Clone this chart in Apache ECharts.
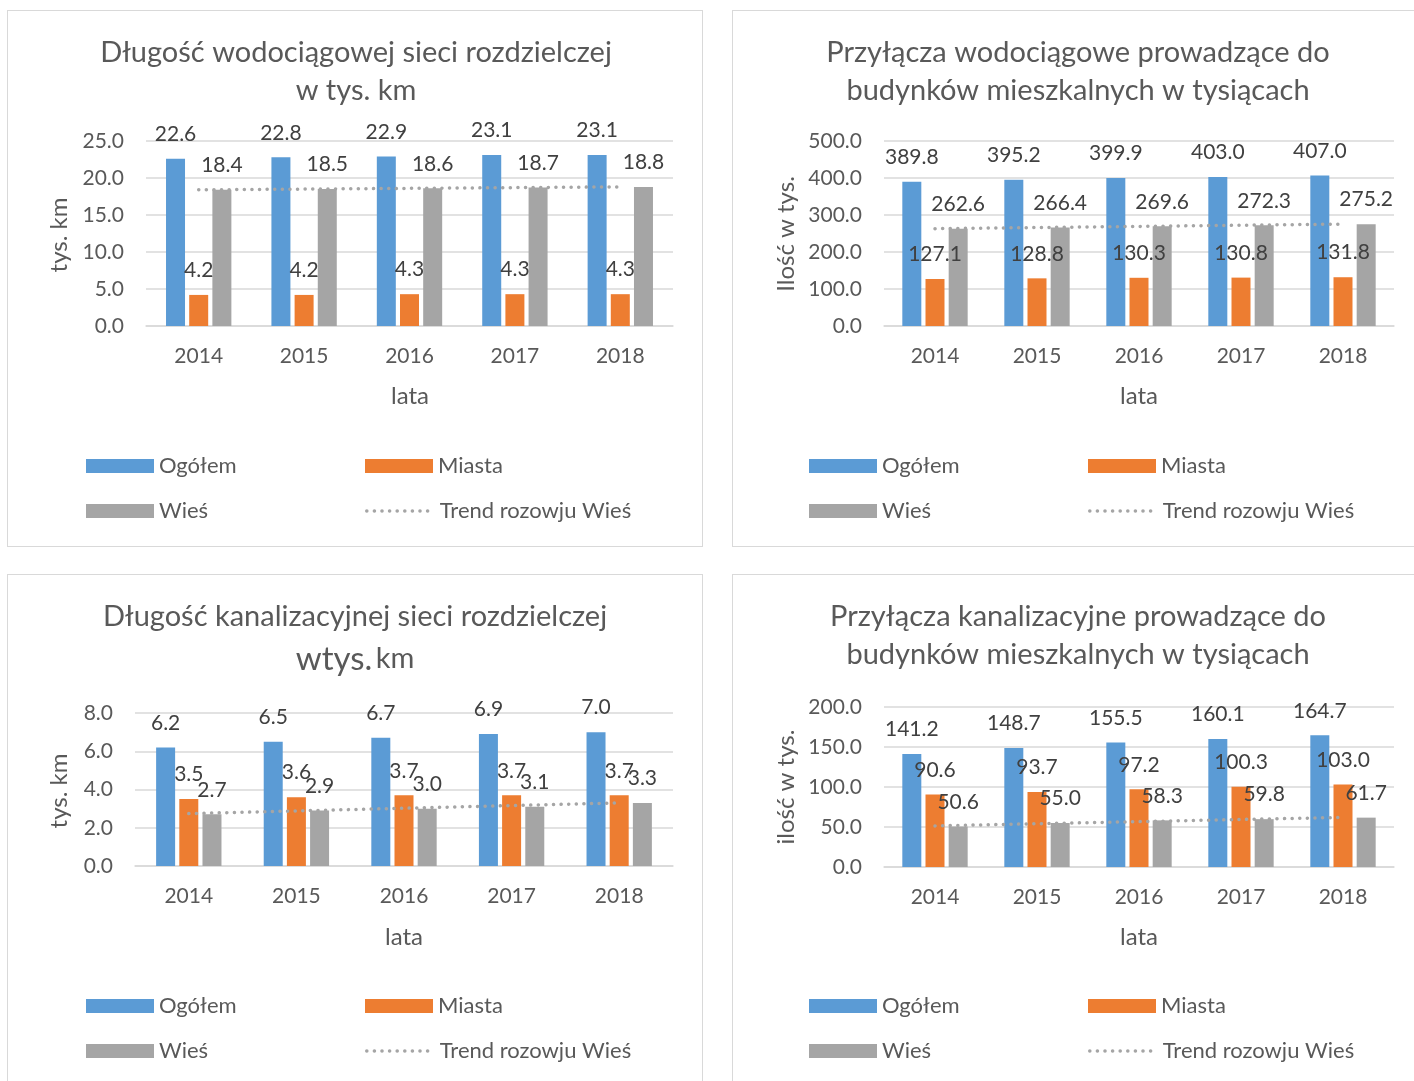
<!DOCTYPE html>
<html>
<head>
<meta charset="utf-8">
<script src="https://cdn.jsdelivr.net/npm/echarts@6/dist/echarts.min.js"></script>
<style>
  html, body { margin: 0; padding: 0; background: #fff; overflow: hidden; width: 1414px; height: 1081px; }
  .panel { position: absolute; border: 1px solid #d9d9d9; box-sizing: border-box; background: #fff; }
</style>
</head>
<body>
<div id="c1" class="panel" style="left:7px;top:10px;width:696px;height:537px"></div>
<div id="c2" class="panel" style="left:732px;top:10px;width:700px;height:537px"></div>
<div id="c3" class="panel" style="left:7px;top:574px;width:696px;height:530px"></div>
<div id="c4" class="panel" style="left:732px;top:574px;width:700px;height:530px"></div>
<script>
var years = ['2014', '2015', '2016', '2017', '2018'];
var seriesNames = ['Ogółem', 'Miasta', 'Wieś', 'Trend rozowju Wieś'];

// wodociągi - długość sieci
var wodSiecOgolem = [22.6, 22.8, 22.9, 23.1, 23.1];
var wodSiecMiasta = [4.2, 4.2, 4.3, 4.3, 4.3];
var wodSiecWies = [18.4, 18.5, 18.6, 18.7, 18.8];
var wodSiecTrend = [18.4, 18.5, 18.6, 18.7, 18.8];

// wodociągi - przyłącza
var wodPrzylOgolem = [389.8, 395.2, 399.9, 403.0, 407.0];
var wodPrzylMiasta = [127.1, 128.8, 130.3, 130.8, 131.8];
var wodPrzylWies = [262.6, 266.4, 269.6, 272.3, 275.2];
var wodPrzylTrend = [263.0, 266.1, 269.2, 272.3, 275.4];

// kanalizacja - długość sieci
var kanSiecOgolem = [6.2, 6.5, 6.7, 6.9, 7.0];
var kanSiecMiasta = [3.5, 3.6, 3.7, 3.7, 3.7];
var kanSiecWies = [2.7, 2.9, 3.0, 3.1, 3.3];
var kanSiecTrend = [2.74, 2.88, 3.02, 3.16, 3.30];

// kanalizacja - przyłącza
var kanPrzylOgolem = [141.2, 148.7, 155.5, 160.1, 164.7];
var kanPrzylMiasta = [90.6, 93.7, 97.2, 100.3, 103.0];
var kanPrzylWies = [50.6, 55.0, 58.3, 59.8, 61.7];
var kanPrzylTrend = [51.4, 54.1, 56.7, 59.4, 62.0];

var FONT = 'Lato';
var TXT = '#595959';
var colors = ['#5b9bd5', '#ed7d31', '#a5a5a5'];

function buildOption(p) {
    var lbl = {
        show: true, position: 'top', distance: 14,
        fontFamily: FONT, fontSize: 21, color: '#404040',
        formatter: function (d) { return d.value.toFixed(1); }
    };
    var bars = [p.ogolem, p.miasta, p.wies].map(function (vals, i) {
        return {
            name: seriesNames[i], type: 'bar', data: vals,
            barWidth: 19, barGap: '22%',
            itemStyle: { color: colors[i] },
            label: lbl
        };
    });
    var trend = {
        name: seriesNames[3], type: 'line', data: p.trend,
        symbol: 'none', z: 5,
        itemStyle: { color: 'rgba(0,0,0,0)' },
        lineStyle: { color: '#a5a5a5', width: 3.5, type: [0.1, 7.5], cap: 'round' }
    };
    var legendBase = {
        orient: 'horizontal', padding: 0, itemWidth: 68, itemHeight: 14,
        textStyle: { fontFamily: FONT, fontSize: 22, color: TXT },
        selectedMode: false
    };
    function lg(name, x, y, rect) {
        var o = Object.assign({}, legendBase, { data: [name], left: x, top: y - 12 });
        if (rect) o.icon = 'rect';
        else o.lineStyle = { color: '#a5a5a5', width: 3.5, type: [0.1, 7.5], cap: 'round' };
        return o;
    }
    var titleLine2 = p.title2rich
        ? { type: 'text', x: p.titleX, y: p.titleY[1], style: { text: '{a|wtys.} {b|km}', textAlign: 'center', textVerticalAlign: 'middle', rich: { a: { fontFamily: FONT, fontSize: 33, fill: TXT }, b: { fontFamily: FONT, fontSize: 29, fill: TXT } } } }
        : { type: 'text', x: p.titleX, y: p.titleY[1], style: { text: p.title[1], font: '29px ' + FONT, fill: TXT, textAlign: 'center', textVerticalAlign: 'middle' } };
    return {
        animation: false,
        grid: p.grid,
        xAxis: {
            type: 'category', data: years,
            axisLine: { lineStyle: { color: '#d9d9d9', width: 1.5 } },
            axisTick: { show: false },
            axisLabel: { fontFamily: FONT, fontSize: 21, color: TXT, margin: 20 }
        },
        yAxis: {
            type: 'value', min: 0, max: p.max, interval: p.interval,
            axisLine: { show: false }, axisTick: { show: false },
            splitLine: { lineStyle: { color: '#d9d9d9', width: 1.5 } },
            axisLabel: { fontFamily: FONT, fontSize: 21, color: TXT, margin: 22, formatter: function (v) { return v.toFixed(1); } }
        },
        legend: [
            lg(seriesNames[0], p.legX[0], p.legY[0], true),
            lg(seriesNames[1], p.legX[1], p.legY[0], true),
            lg(seriesNames[2], p.legX[0], p.legY[1], true),
            lg(seriesNames[3], p.legX[1], p.legY[1], false)
        ],
        graphic: [
            { type: 'text', x: p.titleX, y: p.titleY[0], style: { text: p.title[0], font: '29px ' + FONT, fill: TXT, textAlign: 'center', textVerticalAlign: 'middle' } },
            titleLine2,
            { type: 'text', x: p.yName[1], y: p.yName[2], rotation: Math.PI / 2, style: { text: p.yName[0], font: '24px ' + FONT, fill: TXT, textAlign: 'center', textVerticalAlign: 'middle' } },
            { type: 'text', x: p.xName[0], y: p.xName[1], style: { text: 'lata', font: '24px ' + FONT, fill: TXT, textAlign: 'center', textVerticalAlign: 'middle' } }
        ],
        series: bars.concat([trend])
    };
}

var panels = [
    { id: 'c1', title: ['Długość wodociągowej sieci rozdzielczej', 'w tys. km'], titleX: 348, titleY: [42, 80],
      yName: ['tys. km', 51, 224], xName: [402, 385], max: 25, interval: 5,
      grid: { left: 138, top: 130, width: 527, height: 185 },
      legX: [78, 357], legY: [456, 501],
      ogolem: wodSiecOgolem, miasta: wodSiecMiasta, wies: wodSiecWies, trend: wodSiecTrend },
    { id: 'c2', title: ['Przyłącza wodociągowe prowadzące do', 'budynków mieszkalnych w tysiącach'], titleX: 345, titleY: [42, 80],
      yName: ['Ilość w tys.', 53, 223], xName: [406, 385], max: 500, interval: 100,
      grid: { left: 151, top: 130, width: 510, height: 185 },
      legX: [76, 355], legY: [456, 501],
      ogolem: wodPrzylOgolem, miasta: wodPrzylMiasta, wies: wodPrzylWies, trend: wodPrzylTrend },
    { id: 'c3', title: ['Długość kanalizacyjnej sieci rozdzielczej', 'wtys. km'], title2rich: true, titleX: 347, titleY: [42, 84],
      yName: ['tys. km', 51, 216], xName: [396, 362], max: 8, interval: 2,
      grid: { left: 127, top: 138, width: 538, height: 153 },
      legX: [78, 357], legY: [432, 477],
      ogolem: kanSiecOgolem, miasta: kanSiecMiasta, wies: kanSiecWies, trend: kanSiecTrend },
    { id: 'c4', title: ['Przyłącza kanalizacyjne prowadzące do', 'budynków mieszkalnych w tysiącach'], titleX: 345, titleY: [42, 80],
      yName: ['ilość w tys.', 53, 212], xName: [406, 362], max: 200, interval: 50,
      grid: { left: 151, top: 132, width: 510, height: 160 },
      legX: [76, 355], legY: [432, 477],
      ogolem: kanPrzylOgolem, miasta: kanPrzylMiasta, wies: kanPrzylWies, trend: kanPrzylTrend }
];

panels.forEach(function (p) {
    var chart = echarts.init(document.getElementById(p.id));
    chart.setOption(buildOption(p));
});
</script>
</body>
</html>
